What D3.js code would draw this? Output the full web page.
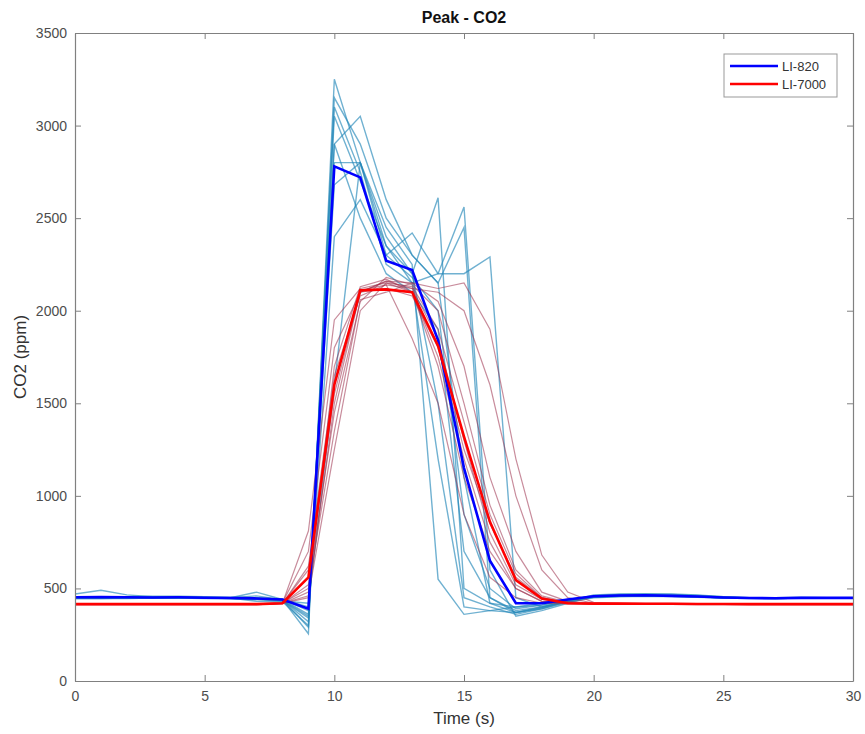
<!DOCTYPE html>
<html>
<head>
<meta charset="utf-8">
<script src="https://cdn.jsdelivr.net/npm/d3@7"></script>
<style>
  body { margin: 0; background: #fff; }
  svg { font-family: "Liberation Sans", Arial, Helvetica, sans-serif; }
  .axis path, .axis line { stroke: #808080; }
  .axis text { fill: #4d4d4d; font-size: 14px; }
</style>
</head>
<body>
<div id="chart"></div>
<script>
// time axis, one reading per second
const times = d3.range(0, 31)

// individual LI-820 runs (ppm)
const li820Runs = [
  [470,490,465,455,455,450,450,460,440,255,3250,2800,2450,2250,550,360,380,400,420,440,460,465,465,460,455,450,450,450,450,450,450],
  [455,455,455,458,458,455,452,450,440,290,3150,2900,2500,2300,2150,2450,450,370,390,430,465,470,470,468,462,455,450,450,452,450,450],
  [450,450,452,452,455,452,450,445,438,320,3050,2700,2350,2150,2200,2560,600,350,380,420,460,468,470,470,465,455,450,448,450,450,450],
  [448,448,450,450,450,448,445,440,435,340,2900,3050,2600,2300,2150,1100,420,370,400,435,458,462,465,462,460,452,448,448,450,450,450],
  [452,452,450,450,452,450,448,445,440,360,2800,2800,2400,2200,2610,500,420,400,410,440,455,458,460,458,455,450,448,448,448,448,448],
  [450,450,450,450,450,450,448,448,442,380,2680,2800,2300,2420,2200,2200,2290,450,400,430,455,460,462,460,458,452,448,445,448,450,450],
  [445,445,448,448,450,448,450,480,440,400,2900,2500,2200,2100,1900,700,450,380,400,430,452,458,460,458,455,450,448,446,448,448,448],
  [448,448,448,450,450,450,445,440,432,420,1600,2800,2350,2200,1500,450,400,360,390,425,450,455,458,456,452,448,446,446,448,448,448],
  [450,450,452,452,452,450,448,430,428,300,3100,2750,2250,2150,1200,400,380,370,395,430,455,460,462,460,455,450,447,447,448,448,448],
  [446,446,446,448,448,446,445,442,436,350,2400,2600,2300,2180,2000,900,500,390,410,435,455,460,462,460,456,450,447,446,448,448,448]
]

// individual LI-7000 runs (ppm)
const li7000Runs = [
  [415,415,415,415,415,415,415,415,420,810,1950,2120,2150,2100,1700,1100,700,500,430,420,418,418,417,417,416,416,415,415,415,415,415],
  [418,418,418,418,418,417,417,417,422,700,1800,2100,2160,2120,1850,1300,800,520,440,422,420,420,419,419,418,418,417,417,417,417,417],
  [412,412,412,412,412,412,412,412,418,620,1650,2080,2140,1850,1500,900,560,450,420,416,415,415,414,414,413,413,413,413,413,413,413],
  [416,416,416,416,416,416,416,416,420,560,1550,2100,2120,2080,1800,1250,850,560,450,420,418,418,417,417,416,416,416,416,416,416,416],
  [414,414,414,414,414,414,414,414,419,520,1450,2050,2180,2140,2000,1500,950,600,460,425,418,417,416,416,415,415,414,414,414,414,414],
  [417,417,417,417,417,417,417,417,421,500,1350,2060,2100,2150,2050,1700,1100,700,480,430,420,419,418,418,417,417,417,417,417,417,417],
  [413,413,413,413,413,413,413,413,418,480,1700,2130,2170,2100,1750,1200,750,500,430,418,416,415,415,414,414,414,413,413,413,413,413],
  [415,415,415,415,415,415,415,415,420,460,1250,2000,2150,2130,1900,1400,900,580,450,422,418,417,416,416,415,415,415,415,415,415,415],
  [416,416,416,416,416,416,416,416,421,600,1600,2110,2140,2120,2100,2000,1600,1000,600,450,420,418,417,417,416,416,416,416,416,416,416],
  [414,414,414,414,414,414,414,414,419,450,1500,2100,2160,2150,2120,2150,1900,1200,680,480,425,418,416,415,415,414,414,414,414,414,414]
]

// averaged traces (ppm)
const li820Mean = [452,454,452,451,452,450,448,446,440,390,2780,2720,2270,2220,1840,1150,650,420,420,440,458,462,463,460,456,451,448,447,449,449,449]
const li7000Mean = [415,415,415,415,415,415,415,415,420,560,1600,2110,2115,2100,1810,1320,860,545,445,420,418,418,417,417,416,416,415,415,415,415,415]

const xTicks = [0, 5, 10, 15, 20, 25, 30]
const yTicks = [0, 500, 1000, 1500, 2000, 2500, 3000, 3500]
const legendNames = ["LI-820", "LI-7000"]
const legendColors = ["#0000ff", "#ff0000"]

const width = 865
const height = 734
const margin = { top: 33, right: 12, bottom: 53, left: 75 }
const innerW = width - margin.left - margin.right
const innerH = height - margin.top - margin.bottom

const svg = d3.select("#chart").append("svg")
    .attr("width", width)
    .attr("height", height)

const bounds = svg.append("g")
    .attr("transform", `translate(${margin.left},${margin.top})`)

const x = d3.scaleLinear().domain([0, 30]).range([0, innerW])
const y = d3.scaleLinear().domain([0, 3500]).range([innerH, 0])

const line = d3.line()
  .x((d, i) => x(times[i]))
  .y(d => y(d))

// clip to the plotting box
svg.append("defs").append("clipPath").attr("id", "clip")
  .append("rect").attr("width", innerW).attr("height", innerH)

const plot = bounds.append("g").attr("clip-path", "url(#clip)")

// thin individual runs
plot.selectAll(".run820")
  .data(li820Runs)
  .join("path")
    .attr("class", "run820")
    .attr("fill", "none")
    .attr("stroke", "rgb(35,135,185)")
    .attr("stroke-opacity", 0.65)
    .attr("stroke-width", 1.4)
    .attr("d", line)

plot.selectAll(".run7000")
  .data(li7000Runs)
  .join("path")
    .attr("class", "run7000")
    .attr("fill", "none")
    .attr("stroke", "rgb(155,45,75)")
    .attr("stroke-opacity", 0.55)
    .attr("stroke-width", 1.2)
    .attr("d", line)

// thick means
plot.append("path")
    .attr("fill", "none")
    .attr("stroke", legendColors[0])
    .attr("stroke-width", 2.6)
    .attr("d", line(li820Mean))

plot.append("path")
    .attr("fill", "none")
    .attr("stroke", legendColors[1])
    .attr("stroke-width", 2.6)
    .attr("d", line(li7000Mean))

// axes, matlab box style with inward ticks
const tick = 6
const fmt = d3.format("d")
bounds.append("g")
    .attr("class", "axis")
    .attr("transform", `translate(0,${innerH})`)
    .call(d3.axisBottom(x).tickValues(xTicks).tickFormat(fmt).tickSizeInner(-tick).tickSizeOuter(0).tickPadding(10))
bounds.append("g")
    .attr("class", "axis")
    .call(d3.axisTop(x).tickValues(xTicks).tickSizeInner(-tick).tickSizeOuter(0).tickFormat(""))
bounds.append("g")
    .attr("class", "axis")
    .call(d3.axisLeft(y).tickValues(yTicks).tickFormat(fmt).tickSizeInner(-tick).tickSizeOuter(0).tickPadding(8))
bounds.append("g")
    .attr("class", "axis")
    .attr("transform", `translate(${innerW},0)`)
    .call(d3.axisRight(y).tickValues(yTicks).tickSizeInner(-tick).tickSizeOuter(0).tickFormat(""))

bounds.selectAll(".axis .domain").attr("stroke-width", 1.2)

// labels
svg.append("text")
    .attr("x", margin.left + innerW / 2)
    .attr("y", 23)
    .attr("text-anchor", "middle")
    .attr("font-size", 16)
    .attr("font-weight", "bold")
    .attr("fill", "#111")
    .text("Peak - CO2")

svg.append("text")
    .attr("x", margin.left + innerW / 2)
    .attr("y", 724)
    .attr("text-anchor", "middle")
    .attr("font-size", 17)
    .attr("fill", "#333")
    .text("Time (s)")

svg.append("text")
    .attr("transform", `translate(26,${margin.top + innerH / 2}) rotate(-90)`)
    .attr("text-anchor", "middle")
    .attr("font-size", 17)
    .attr("fill", "#333")
    .text("CO2 (ppm)")

// legend
const legend = svg.append("g").attr("transform", "translate(724,54)")
legend.append("rect")
    .attr("width", 113)
    .attr("height", 43)
    .attr("fill", "#fff")
    .attr("stroke", "#999")
    .attr("stroke-width", 1)

const items = legend.selectAll(".item")
  .data(legendNames)
  .join("g")
    .attr("class", "item")
    .attr("transform", (d, i) => `translate(0,${12 + i * 18})`)
items.append("line")
    .attr("x1", 6).attr("x2", 54)
    .attr("stroke", (d, i) => legendColors[i])
    .attr("stroke-width", 2.6)
items.append("text")
    .attr("x", 58)
    .attr("dy", "0.35em")
    .attr("font-size", 13)
    .attr("fill", "#333")
    .text(d => d)
</script>
</body>
</html>
